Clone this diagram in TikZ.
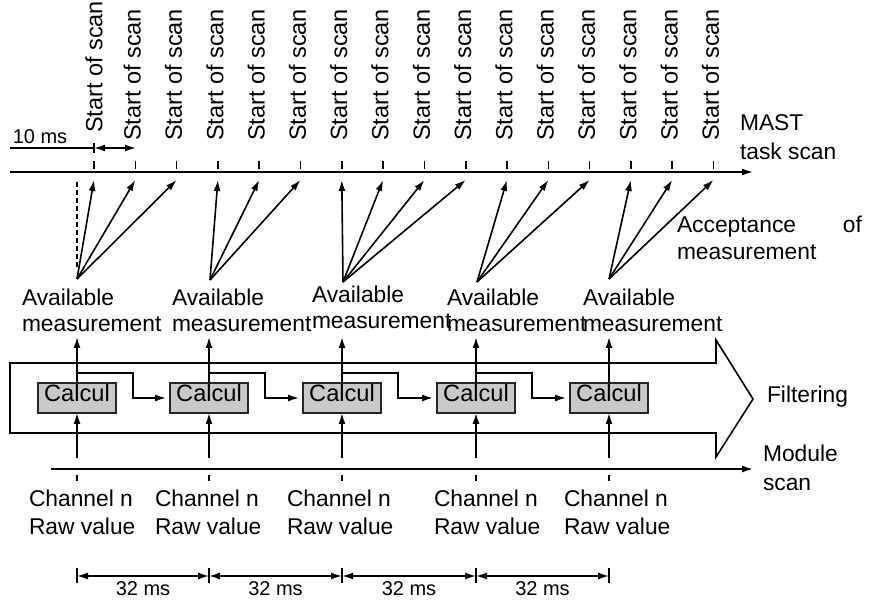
\documentclass[tikz,border=0pt]{standalone}
\usepackage{fontspec}
\setmainfont{Liberation Sans}
\usetikzlibrary{arrows.meta,calc}

\definecolor{calcfill}{HTML}{C9C9C9}

\begin{document}
\begin{tikzpicture}[x=1pt,y=-1pt,line width=1.6pt,
  >={Latex[length=11pt,width=7pt]},
  every node/.style={inner sep=0pt,outer sep=0pt,font=\fontsize{22.8}{26}\selectfont},
  scanlbl/.style={rotate=90,anchor=west,font=\fontsize{23.5}{26}\selectfont},
  twoline/.style={align=left,anchor=west},
  chanlbl/.style={align=left,anchor=west,font=\fontsize{22.8}{28}\selectfont},
  sidelbl/.style={align=left,anchor=west,font=\fontsize{22.8}{29}\selectfont},
  dimlbl/.style={font=\fontsize{20}{24}\selectfont},
  calcbox/.style={draw=black!85,fill=calcfill,line width=1.6pt,minimum width=78pt,
    minimum height=30pt,text height=12pt,text depth=4.5pt,
    font=\fontsize{23.6}{26}\selectfont},
  gap/.style={shorten >=4pt}
]
\useasboundingbox (0,0) rectangle (873,601);

% ---------- MAST task time axis ----------
\coordinate (mastL) at (10,172);
\coordinate (mastR) at (753,172);
\draw[->] (mastL) -- (mastR);
\node[sidelbl] (mast) at (740,137) {MAST\\task scan};

\foreach \k in {1,...,16}{
  \pgfmathsetmacro\tx{94+41.3*(\k-1)}
  \coordinate (tk\k) at (\tx,172);
  \coordinate (tp\k) at (\tx,180);
  \draw ($(tk\k)+(0,-11)$) -- ++(0,8);
}
\node[scanlbl] (ss1) at ($(tk1)+(0,-39)$) {Start of scan};
\foreach \k in {2,...,16}{
  \node[scanlbl] (ss\k) at ($(tk\k)+(-3,-31)$) {Start of scan};
}

% ---------- 10 ms period ----------
\node[dimlbl] (tenms) at (40,137) {10 ms};
\coordinate (tenL) at (10,148);
\coordinate (tenM) at (94,148);
\coordinate (tenR) at (136,148);
\draw (tenL) -- (tenM);
\draw ($(tenM)+(0,-5)$) -- ++(0,10);
\draw[<->] (tenM) -- (tenR);

% ---------- filtering band ----------
\draw[line join=miter] (10,363) -- (716,363) -- (716,340) -- (753,399)
  -- (716,457) -- (716,433) -- (10,433) -- cycle;
\node[anchor=base west] (filt) at (767,403) {Filtering};

% ---------- calculation blocks ----------
\foreach \x [count=\i] in {77,209,342,476,609}{
  \node[calcbox] (cb\i) at (\x,398) {Calcul};
  \coordinate (up\i) at (\x,337);
  \coordinate (in\i) at (\x,458);
  \coordinate (mt\i) at (\x,475);
  \coordinate (dm\i) at (\x,576);
}
\foreach \i in {1,...,5}{
  \draw[->] (cb\i.north) -- (up\i);
  \draw[->] (in\i) -- (cb\i.south);
}
\foreach \i/\j in {1/2,2/3,3/4,4/5}{
  \draw[->,gap] ($(cb\i.north)+(0,-10)$) -- ++(56,0) |- (cb\j.west);
}

% ---------- available measurements and their acceptance ----------
\foreach \x/\y [count=\i] in {77/279,210/280,343/282,477/282,609/279}{
  \coordinate (av\i) at (\x,\y);
}
\foreach \g/\k in {1/1,1/2,1/3,2/4,2/5,2/6,3/7,3/8,3/9,3/10,4/11,4/12,4/13,5/14,5/15,5/16}{
  \draw[->] (av\g) -- (tp\k);
}
\coordinate (dashT) at (77,182);
\coordinate (dashB) at (77,268);
\draw[dash pattern=on 5pt off 3pt] (dashT) -- (dashB);

\node[twoline] (am1) at (22,310) {Available\\measurement};
\node[twoline] (am2) at (172,310) {Available\\measurement};
\node[twoline] (am3) at (312,307) {Available\\measurement};
\node[twoline] (am4) at (447,310) {Available\\measurement};
\node[twoline] (am5) at (583,310) {Available\\measurement};

\node[twoline,font=\fontsize{22.8}{27}\selectfont] (acc) at (677,238)
  {\makebox[185pt][s]{Acceptance of}\\measurement};

% ---------- module scan axis ----------
\coordinate (modL) at (51,469);
\coordinate (modR) at (753,469);
\draw[->] (modL) -- (modR);
\node[sidelbl] (mod) at (763,468) {Module\\scan};
\foreach \i in {1,...,5}{
  \draw (mt\i) -- ++(0,6);
}
\foreach \x [count=\i] in {29,155,287,434,564}{
  \node[chanlbl] (ch\i) at (\x,512) {Channel n\\Raw value};
}

% ---------- 32 ms module period ----------
\foreach \i in {1,...,5}{
  \draw ($(dm\i)+(0,-8)$) -- ++(0,15);
}
\foreach \i/\j in {1/2,2/3,3/4,4/5}{
  \draw[<->] (dm\i) -- (dm\j);
  \node[dimlbl] (ms\i) at ($(dm\i)!0.5!(dm\j)+(0,13)$) {32 ms};
}
\end{tikzpicture}
\end{document}
